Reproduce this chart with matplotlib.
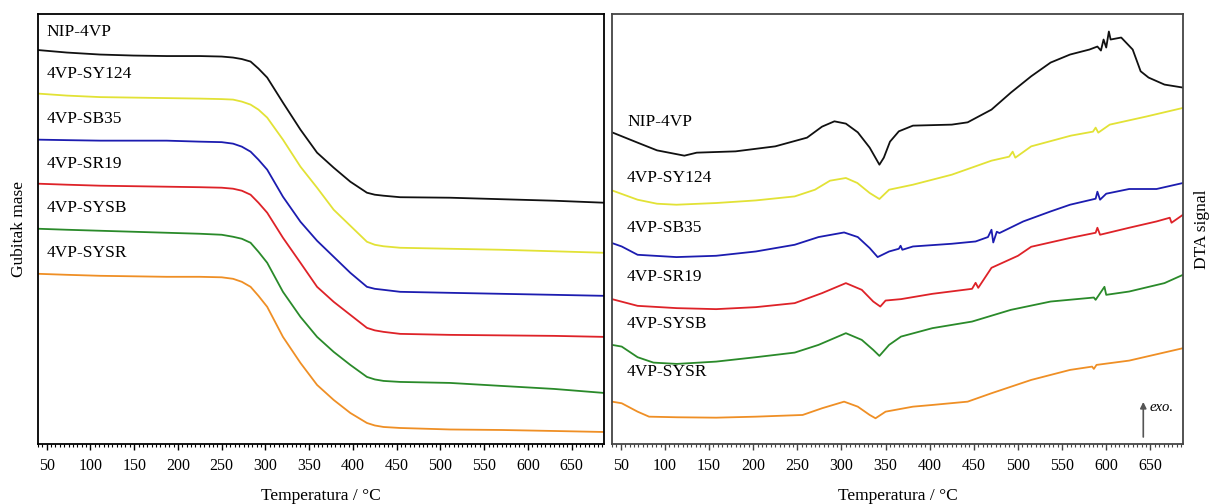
import numpy as np
import matplotlib
matplotlib.use("Agg")
import matplotlib.pyplot as plt
from matplotlib.ticker import MultipleLocator

plt.rcParams["font.family"] = ["Liberation Serif", "DejaVu Serif"]

# ------------------------------------------------------------
# data (offset-stacked, arbitrary units)
# ------------------------------------------------------------
names = ["NIP-4VP", "4VP-SY124", "4VP-SB35", "4VP-SR19", "4VP-SYSB", "4VP-SYSR"]
colors = ["#111111", "#e2e236", "#1c1cb0", "#de2228", "#2a8a2a", "#ef8f25"]

# TG (mass loss) curves share one temperature grid
t_tg = [40, 73, 111, 149, 187, 225, 250, 263, 273, 283, 292, 302, 320, 340, 359, 378,
        397, 416, 425, 435, 454, 511, 570, 630, 687]
tg_nip = [393.5, 391, 389, 388, 387.5, 387.5, 387, 386, 384.5, 382, 375, 366, 341, 314,
          291, 276, 262, 251, 249, 248, 246.5, 246, 244.5, 243, 241]
tg_sy124 = [350, 348, 346.5, 346, 345.5, 345, 344.5, 344, 342, 339, 334, 326, 304, 277,
            256, 234, 218, 202, 199, 197.5, 196, 195, 194, 192.5, 191]
tg_sb35 = [304, 303.5, 303, 303, 303, 302, 301.5, 300, 297, 292, 284, 274, 247, 222,
           203, 187, 171, 157, 155, 154, 152, 151, 150, 149, 148]
tg_sr19 = [260, 259, 258, 257.5, 257, 256.5, 256, 255, 253, 249, 241, 231, 206, 181,
           157, 142, 129, 116, 113.5, 112, 110, 109, 108.5, 108, 107]
tg_sysb = [215, 214, 213, 212, 211, 210, 209, 207, 205, 201, 192, 181, 152, 127, 107,
           92, 79, 67, 64.5, 63, 62, 61, 58, 55, 51]
tg_sysr = [170, 169, 168, 167.5, 167, 167, 166.5, 165, 162, 157, 148, 137, 107, 81, 59,
           44, 31, 21, 18.5, 17, 16, 14.5, 14, 13, 12]

# DTA curves
t_nip = [40, 69, 91, 122, 136, 180, 225, 261, 278, 292, 305, 318.5, 332, 343, 348, 355,
         365, 381, 425, 443, 470, 492, 515, 537, 559, 581, 590, 594, 597, 600, 603, 605,
         617, 630, 639, 648, 666, 687]
dta_nip = [311.3, 301, 293.3, 288, 291, 292.3, 297.3, 306, 317, 322.3, 320, 311.3, 296,
           279, 286, 302, 312.3, 318, 319, 321.3, 334, 351, 367.3, 381, 389, 394, 397,
           393, 404, 396, 412, 404, 406, 394, 372.3, 366, 359, 356]

t_sy124 = [40, 69, 91, 113, 158, 203, 247, 270, 287, 305, 318, 332, 343, 354, 381, 425,
           470, 490, 494, 497, 515, 560, 585, 588, 591, 604, 645, 687]
dta_sy124 = [253.3, 244, 240, 239, 240.7, 243.3, 247.3, 254, 263, 265.7, 260.7, 250.7,
             244.7, 254, 259, 269, 283, 287, 292, 286, 297.3, 308, 312, 316, 311, 319,
             327, 335.7]

t_sb35 = [40, 51, 69, 113, 158, 203, 247, 274, 303, 318.5, 332, 341, 354, 365, 367, 369,
          381, 425, 452, 466, 470, 472, 476, 479, 506, 537, 559, 588, 590, 593, 600, 626,
          657, 687]
dta_sb35 = [200.7, 197.3, 189, 186.7, 188, 192.3, 199, 206.7, 211.3, 206.7, 195.7, 186.7,
            192.3, 195, 198, 194, 197.3, 200, 202.3, 206.7, 214, 201.3, 212, 210.7, 222.3,
            232.3, 239, 245, 252, 244, 250, 254.7, 254.7, 260.7]

t_sr19 = [40, 69, 113.5, 158, 203, 247, 278, 305, 323, 336, 344, 350, 367.5, 403, 448,
          452, 455, 470, 485, 500, 515, 560, 588, 590, 593, 626, 657, 672, 674, 687]
dta_sr19 = [144.7, 138, 135.7, 134.7, 136.7, 140.7, 150.7, 160.7, 154, 142.3, 137.3,
            143.3, 144.7, 150, 155, 161, 156, 176, 182, 188, 197, 206, 211, 216, 209, 216,
            222.3, 226, 221, 229]

t_sysb = [40, 51, 69, 87, 113.5, 158, 203, 247, 274, 305, 323, 336, 343, 354, 367.5, 403,
          448, 492, 537, 586, 588, 598, 600, 626, 666, 687]
dta_sysb = [99, 97.3, 86.7, 81.3, 80, 82.3, 86.7, 91.3, 99, 110.7, 104, 94, 88, 99,
            107.3, 115.7, 122.3, 134, 142.3, 146.3, 144, 157, 149, 152.3, 160.7, 169]

t_sysr = [40, 51, 69, 82, 113.5, 158, 203, 256, 278, 303, 318.5, 332, 338.6, 350, 381,
          403, 443, 470, 515, 559, 584, 586, 589, 626, 687]
dta_sysr = [42.3, 40.7, 32.3, 27.3, 26.7, 26.3, 27.3, 29, 35.7, 42.3, 37.3, 29, 25.7,
            32.3, 37.3, 39, 42.3, 50.7, 64, 74, 77.3, 75, 79, 83.3, 95.7]

tg_curves = [tg_nip, tg_sy124, tg_sb35, tg_sr19, tg_sysb, tg_sysr]
dta_t = [t_nip, t_sy124, t_sb35, t_sr19, t_sysb, t_sysr]
dta_curves = [dta_nip, dta_sy124, dta_sb35, dta_sr19, dta_sysb, dta_sysr]

# label heights (same units as curves)
tg_label_y = [412, 370, 325, 280, 236, 191]
dta_label_y = [322, 266, 216, 167, 120, 72]

# ------------------------------------------------------------
fig = plt.figure(figsize=(12.13, 5.04), dpi=100)
ax1 = fig.add_axes([38 / 1213, 60 / 504, 566 / 1213, 430 / 504])
ax2 = fig.add_axes([612 / 1213, 60 / 504, 571 / 1213, 430 / 504])


def style_axis(ax, edge):
    ax.set_xlim(40, 687)
    ax.set_ylim(0, 429.5)
    ax.xaxis.set_major_locator(MultipleLocator(50))
    ax.xaxis.set_minor_locator(MultipleLocator(5))
    ax.tick_params(axis="x", which="major", direction="out", length=4, width=1,
                   labelsize=11.5, pad=6, color=edge)
    ax.tick_params(axis="x", which="minor", direction="out", length=2, width=0.8,
                   color=edge)
    ax.set_yticks([])
    for s in ax.spines.values():
        s.set_color(edge)
        s.set_linewidth(1.3)
    ax.set_xlabel("Temperatura / °C", fontsize=12.5, labelpad=10)


# TG panel
for y, c in zip(tg_curves, colors):
    ax1.plot(t_tg, y, color=c, lw=1.3)
for name, ly in zip(names, tg_label_y):
    ax1.text(50, ly, name, fontsize=12.5, va="center", ha="left")
style_axis(ax1, "black")
ax1.set_ylabel("Gubitak mase", fontsize=12.5, labelpad=8)

# DTA panel
for t, y, c in zip(dta_t, dta_curves, colors):
    ax2.plot(t, y, color=c, lw=1.3)
for name, ly in zip(names, dta_label_y):
    ax2.text(57, ly, name, fontsize=12.5, va="center", ha="left")
style_axis(ax2, "#444444")
ax2.yaxis.set_label_position("right")
ax2.set_ylabel("DTA signal", fontsize=12.5, labelpad=8)

ax2.annotate("", xy=(642, 42), xytext=(642, 7),
             arrowprops=dict(arrowstyle="-|>", color="#555555", lw=1.2,
                             mutation_scale=9, shrinkA=0, shrinkB=0))
ax2.text(649, 36, "exo.", fontsize=10.5, style="italic", va="center", ha="left")

fig.savefig("out.png", dpi=100)
